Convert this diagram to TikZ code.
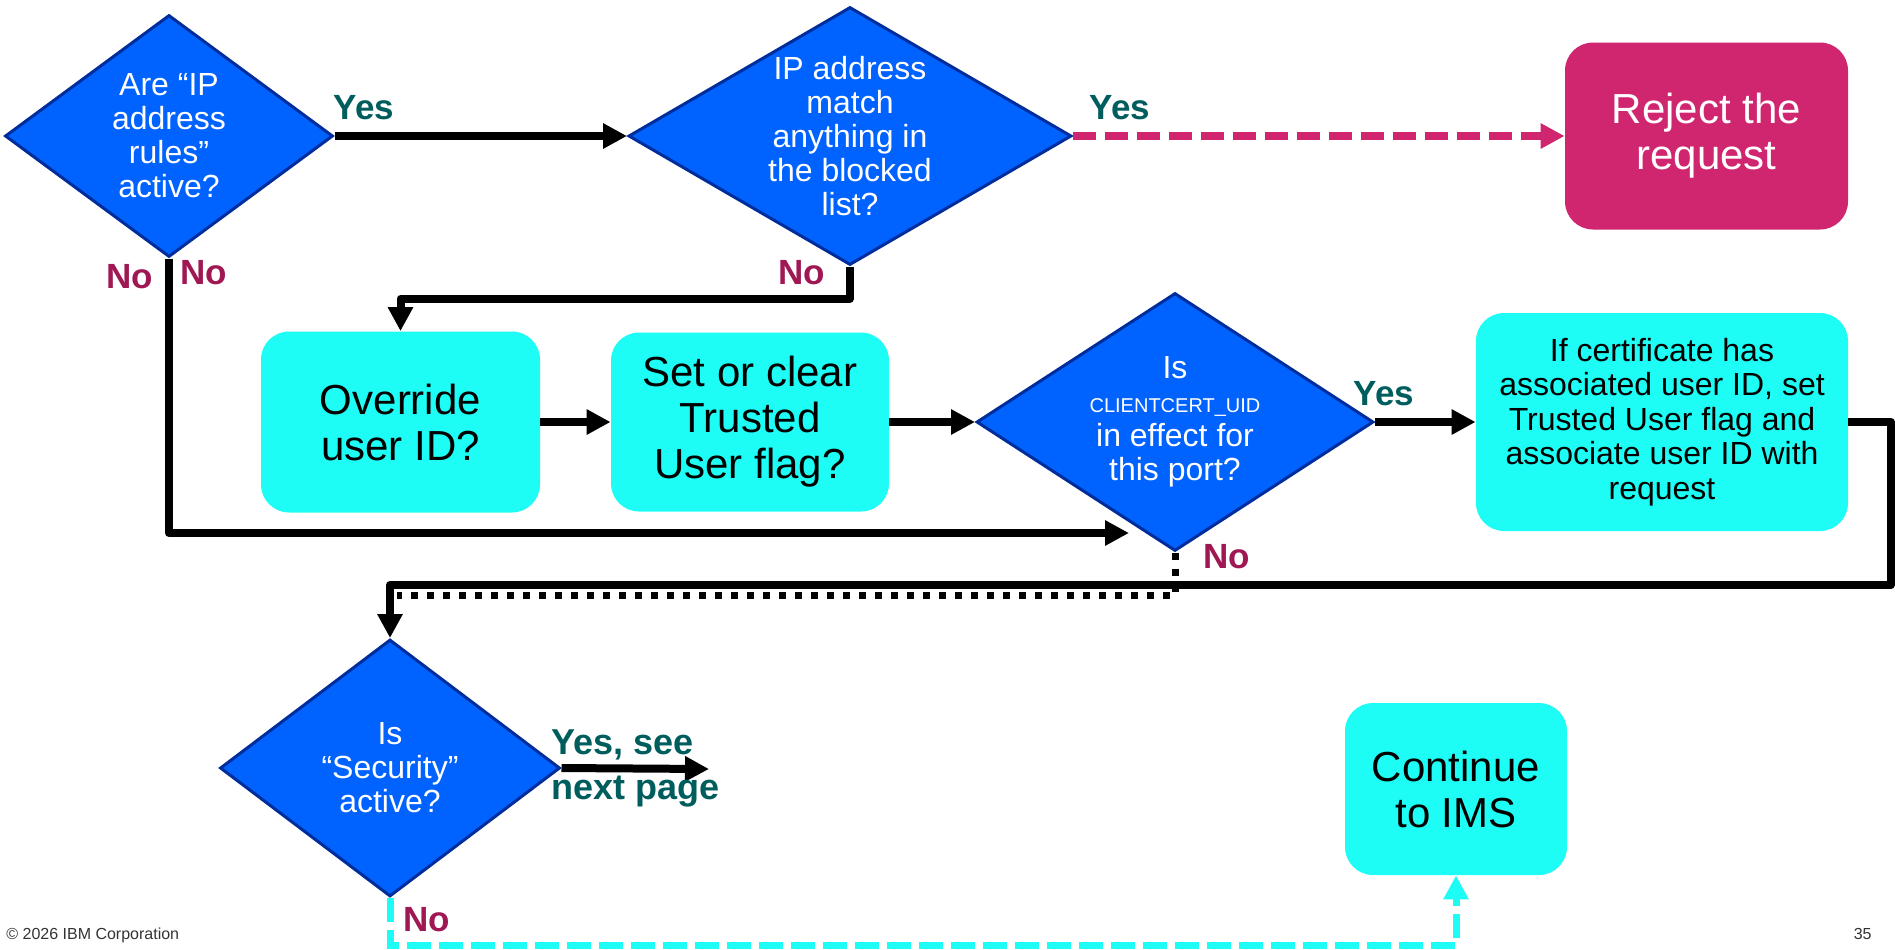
\documentclass[tikz,border=0pt]{standalone}
\usepackage{fontspec}
\setmainfont{Liberation Sans}
\usetikzlibrary{shapes.geometric,arrows.meta}
\definecolor{decblue}{HTML}{0062FF}
\definecolor{decedge}{HTML}{002D9C}
\definecolor{stepcyan}{RGB}{30,253,245}
\definecolor{rejectmag}{HTML}{D02670}
\definecolor{yesteal}{HTML}{005D5D}
\definecolor{nored}{HTML}{9F1853}
\definecolor{footgray}{HTML}{333333}
\begin{document}
\begin{tikzpicture}[x=0.5pt,y=-0.5pt,
  decision/.style={diamond, draw=decedge, fill=decblue, line width=1.5pt, inner sep=0pt},
  dtext/.style={text=white, align=center, font=\fontsize{16}{17}\selectfont, inner sep=0pt},
  stepbox/.style={rectangle, rounded corners=14pt, fill=stepcyan, align=center,
    font=\fontsize{21}{23}\selectfont},
  rejectbox/.style={rectangle, rounded corners=14pt, fill=rejectmag, text=white, align=center,
    font=\fontsize{21}{23}\selectfont},
  tip/.style={-{Triangle[length=12pt,width=12pt]}},
  arr/.style={line width=4pt, line join=round, tip},
  magarr/.style={line width=4pt, draw=rejectmag, dash pattern=on 11.5pt off 4.5pt,
    -{Triangle[length=12pt,width=12pt,fill=rejectmag]}},
  cyarr/.style={line width=3.5pt, draw=stepcyan, dash pattern=on 12pt off 4pt,
    -{Triangle[length=12pt,width=12pt,fill=stepcyan]}},
  dotline/.style={line width=3.5pt, dash pattern=on 3.5pt off 4.5pt},
  yeslbl/.style={text=yesteal, font=\fontsize{17.5}{19}\selectfont\bfseries, inner sep=0pt},
  nolbl/.style={text=nored, font=\fontsize{17.5}{19}\selectfont\bfseries, inner sep=0pt},
  foot/.style={text=footgray, font=\fontsize{8}{9}\selectfont, inner sep=0pt}
]
\useasboundingbox (0,0) rectangle (1895,949);

% decisions
\node[decision, minimum width=164pt, minimum height=121pt] (d1) at (169,136) {};
\node[dtext] (d1t) at (d1.center) {Are “IP\\address\\rules”\\active?};
\node[decision, minimum width=221.5pt, minimum height=129pt] (d2) at (850,136) {};
\node[dtext] (d2t) at (d2.center) {IP address\\match\\anything in\\the blocked\\list?};
\node[decision, minimum width=198.5pt, minimum height=129pt] (d3) at (1175,422) {};
\node[dtext] (d3t) at (d3.center) {Is\\{\fontsize{10}{17}\selectfont CLIENTCERT\_UID}\\in effect for\\this port?};
\node[decision, minimum width=170pt, minimum height=128.5pt] (d4) at (390,768) {};
\node[dtext] (d4t) at (d4.center) {Is\\“Security”\\active?};

% actions
\node[rejectbox, minimum width=141.5pt, minimum height=93.5pt] (reject) at (1706.5,136) {Reject the\\request};
\node[stepbox, minimum width=139.5pt, minimum height=90.5pt] (override) at (400.5,422) {Override\\user ID?};
\node[stepbox, minimum width=139pt, minimum height=89.5pt] (setclear) at (750,422) {Set or clear\\Trusted\\User flag?};
\node[stepbox, minimum width=186pt, minimum height=109pt, font=\fontsize{16}{17.3}\selectfont] (cert) at (1662,422)
  {If certificate has\\associated user ID, set\\Trusted User flag and\\associate user ID with\\request};
\node[stepbox, minimum width=111pt, minimum height=86pt] (cont) at (1456,789) {Continue\\to IMS};

% free ends of connectors
\coordinate (d3in) at (1129,533);
\coordinate (rr) at (1891,585);
\coordinate (dl) at (397,595);
\coordinate (nextpg) at (709,769);
\coordinate (cy) at (1456,945);

% connectors
\draw[arr] (d1.east) -- (d2.west);
\draw[magarr] (d2.east) -- (reject.west);
\draw[arr] (d2.south) -- ++(0,32) -| (override.north);
\draw[arr] (d1.south) |- (d3in);
\draw[arr] (override.east) -- (setclear.west);
\draw[arr] (setclear.east) -- (d3.west);
\draw[arr] (d3.east) -- (cert.west);
\draw[dotline] (d3.south) |- (dl);
\draw[arr] (cert.east) -| (rr) -| (d4.north);
\draw[arr] (d4.east) -- (nextpg);
\draw[cyarr] (d4.south) |- (cy) -- (cont.south);

% branch labels
\node[yeslbl] (y1) at (364,108) {Yes};
\node[yeslbl] (y2) at (1120,108) {Yes};
\node[yeslbl] (y3) at (1384,394) {Yes};
\node[yeslbl, anchor=west, align=left, font=\fontsize{18}{22.5}\selectfont\bfseries] (y4) at (551,768) {Yes, see\\next page};
\node[nolbl] (n1) at (130,277) {No};
\node[nolbl] (n2) at (204,273) {No};
\node[nolbl] (n3) at (802,273) {No};
\node[nolbl] (n4) at (1227,557) {No};
\node[nolbl] (n5) at (427,920) {No};

% footer
\node[foot, anchor=west] (copy) at (6,935) {© 2026 IBM Corporation};
\node[foot, anchor=east] (page) at (1872,934) {35};
\end{tikzpicture}
\end{document}
